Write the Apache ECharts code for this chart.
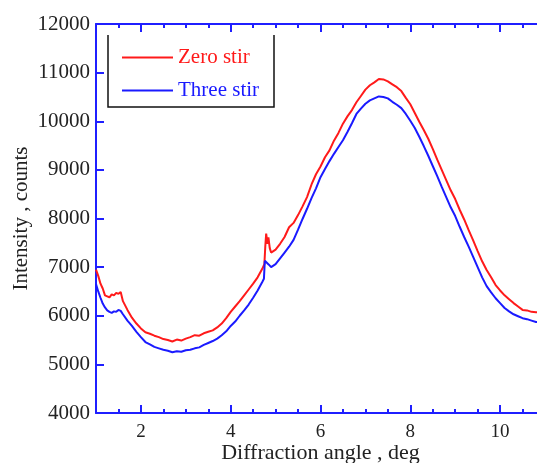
<!DOCTYPE html>
<html><head><meta charset="utf-8">
<script src="https://cdn.jsdelivr.net/npm/echarts@6/dist/echarts.min.js"></script>
<style>html,body{margin:0;padding:0;background:#fff}#c{width:537px;height:463px}</style>
</head><body><div id="c"></div>
<script>
const seriesNames = ['Zero stir', 'Three stir'];
const xTickValues = [2, 4, 6, 8, 10];
const xMinorTickValues = [1.5, 2.5, 3, 3.5, 4.5, 5, 5.5, 6.5, 7, 7.5, 8.5, 9, 9.5, 10.5];
const zeroStirX = [1.0,1.05,1.1,1.15,1.2,1.25,1.3,1.35,1.4,1.45,1.5,1.55,1.6,1.7,1.8,1.9,2.0,2.1,2.2,2.3,2.4,2.5,2.6,2.7,2.8,2.9,3.0,3.1,3.2,3.3,3.4,3.5,3.6,3.7,3.8,3.9,4.0,4.1,4.2,4.3,4.4,4.5,4.6,4.7,4.75,4.77,4.79,4.82,4.84,4.87,4.9,5.0,5.1,5.2,5.3,5.4,5.5,5.6,5.7,5.8,5.9,6.0,6.1,6.2,6.3,6.4,6.5,6.6,6.7,6.8,6.9,7.0,7.1,7.2,7.3,7.4,7.5,7.6,7.7,7.8,7.9,8.0,8.1,8.2,8.3,8.4,8.5,8.6,8.7,8.8,8.9,9.0,9.1,9.2,9.3,9.4,9.5,9.6,9.7,9.8,9.9,10.0,10.1,10.2,10.3,10.4,10.5,10.6,10.7,10.8,10.9,11.0];
const zeroStirY = [6950,6820,6660,6560,6420,6400,6380,6440,6420,6470,6450,6490,6300,6120,5960,5840,5740,5660,5630,5590,5560,5520,5500,5470,5510,5490,5530,5560,5600,5590,5640,5670,5700,5760,5840,5950,6080,6190,6300,6420,6540,6660,6790,6960,7060,7420,7690,7480,7610,7390,7300,7360,7480,7620,7820,7910,8070,8250,8440,8700,8910,9070,9260,9400,9600,9760,9950,10100,10230,10390,10520,10650,10740,10800,10870,10860,10820,10760,10700,10620,10480,10350,10170,9990,9820,9640,9430,9210,9000,8790,8580,8400,8180,7980,7760,7550,7330,7120,6940,6790,6630,6520,6420,6340,6260,6190,6120,6110,6080,6070,6070,6060];
const threeStirX = [1.0,1.05,1.1,1.15,1.2,1.25,1.3,1.35,1.4,1.45,1.5,1.55,1.6,1.7,1.8,1.9,2.0,2.1,2.2,2.3,2.4,2.5,2.6,2.7,2.8,2.9,3.0,3.1,3.2,3.3,3.4,3.5,3.6,3.7,3.8,3.9,4.0,4.1,4.2,4.3,4.4,4.5,4.6,4.7,4.74,4.76,4.8,4.85,4.9,5.0,5.1,5.2,5.3,5.4,5.5,5.6,5.7,5.8,5.9,6.0,6.1,6.2,6.3,6.4,6.5,6.6,6.7,6.8,6.9,7.0,7.1,7.2,7.3,7.4,7.5,7.6,7.7,7.8,7.9,8.0,8.1,8.2,8.3,8.4,8.5,8.6,8.7,8.8,8.9,9.0,9.1,9.2,9.3,9.4,9.5,9.6,9.7,9.8,9.9,10.0,10.1,10.2,10.3,10.4,10.5,10.6,10.7,10.8,10.9,11.0];
const threeStirY = [6650,6500,6370,6250,6170,6110,6080,6060,6090,6080,6120,6100,6030,5900,5790,5670,5560,5460,5410,5360,5330,5300,5280,5250,5270,5260,5290,5300,5330,5350,5400,5440,5480,5530,5600,5680,5790,5880,6000,6110,6230,6370,6520,6690,6760,7130,7100,7050,7000,7060,7180,7300,7420,7560,7770,7990,8200,8420,8620,8850,9020,9180,9330,9470,9610,9780,9960,10150,10260,10360,10430,10470,10510,10500,10470,10400,10340,10270,10150,10010,9860,9680,9490,9290,9080,8870,8650,8440,8230,8050,7830,7620,7420,7210,7000,6790,6610,6480,6360,6260,6160,6090,6030,5990,5950,5930,5900,5870,5870,5860];

const zip = (xs, ys) => xs.map((x, i) => [x, ys[i]]);
const AX = '#1f1fff';
const RED = '#ff1a1a';
const BLUE = '#1a1aff';
const FONT = '"Liberation Serif", "DejaVu Serif", serif';
const chart = echarts.init(document.getElementById('c'));
const baseX = (pos, show) => ({
  type: 'value', min: 1, max: 11, position: pos,
  axisLine: { show: show, onZero: false, lineStyle: { color: AX, width: 2 } },
  splitLine: { show: false }
});
chart.setOption({
  animation: false,
  backgroundColor: '#fff',
  grid: { left: 96, top: 24, width: 449, height: 389, outerBoundsMode: 'none', containLabel: false },
  legend: {
    orient: 'vertical', left: 122, top: 47, padding: 0, itemWidth: 51, itemHeight: 2, itemGap: 12,
    icon: 'rect',
    textStyle: { fontFamily: FONT, fontSize: 21, lineHeight: 20 },
    data: [
      { name: seriesNames[0], textStyle: { color: RED } },
      { name: seriesNames[1], textStyle: { color: BLUE } }
    ]
  },
  graphic: [{
    type: 'polyline', silent: true,
    shape: { points: [[108, 35], [108, 107], [274, 107], [274, 35]] },
    style: { stroke: '#111', lineWidth: 1.5, fill: null }
  }],
  xAxis: [
    Object.assign(baseX('bottom', true), {
      name: 'Diffraction angle , deg', nameLocation: 'middle', nameGap: 29, nameMoveOverlap: false,
      nameTextStyle: { fontFamily: FONT, fontSize: 22, color: '#222' },
      axisTick: { inside: true, length: 8, customValues: xTickValues, lineStyle: { color: AX, width: 2 } },
      axisLabel: { customValues: xTickValues, margin: 10, fontFamily: FONT, fontSize: 19, color: '#222', formatter: v => String(v) }
    }),
    Object.assign(baseX('bottom', false), {
      axisTick: { inside: true, length: 4, customValues: xMinorTickValues, lineStyle: { color: AX, width: 2 } },
      axisLabel: { show: false }
    }),
    Object.assign(baseX('top', true), {
      axisTick: { inside: true, length: 8, customValues: xTickValues, lineStyle: { color: AX, width: 2 } },
      axisLabel: { show: false }
    }),
    Object.assign(baseX('top', false), {
      axisTick: { inside: true, length: 4, customValues: xMinorTickValues, lineStyle: { color: AX, width: 2 } },
      axisLabel: { show: false }
    })
  ],
  yAxis: [
    {
      type: 'value', min: 4000, max: 12000, interval: 1000, position: 'left',
      name: 'Intensity , counts', nameLocation: 'middle', nameGap: 64, nameRotate: 90, nameMoveOverlap: false,
      nameTextStyle: { fontFamily: FONT, fontSize: 21, color: '#222' },
      axisLine: { show: true, lineStyle: { color: AX, width: 2 } },
      axisTick: { inside: true, length: 8, lineStyle: { color: AX, width: 2 } },
      axisLabel: { margin: 6, fontFamily: FONT, fontSize: 21, color: '#222', formatter: v => String(v) },
      splitLine: { show: false }
    },
    {
      type: 'value', min: 4000, max: 12000, interval: 1000, position: 'right',
      axisLine: { show: true, lineStyle: { color: AX, width: 2 } },
      axisTick: { inside: true, length: 8, lineStyle: { color: AX, width: 2 } },
      axisLabel: { show: false },
      splitLine: { show: false }
    }
  ],
  series: [
    { name: seriesNames[0], type: 'line', data: zip(zeroStirX, zeroStirY), symbol: 'none',
      lineStyle: { color: RED, width: 2 }, itemStyle: { color: RED } },
    { name: seriesNames[1], type: 'line', data: zip(threeStirX, threeStirY), symbol: 'none',
      lineStyle: { color: BLUE, width: 2 }, itemStyle: { color: BLUE } }
  ]
});
</script></body></html>
